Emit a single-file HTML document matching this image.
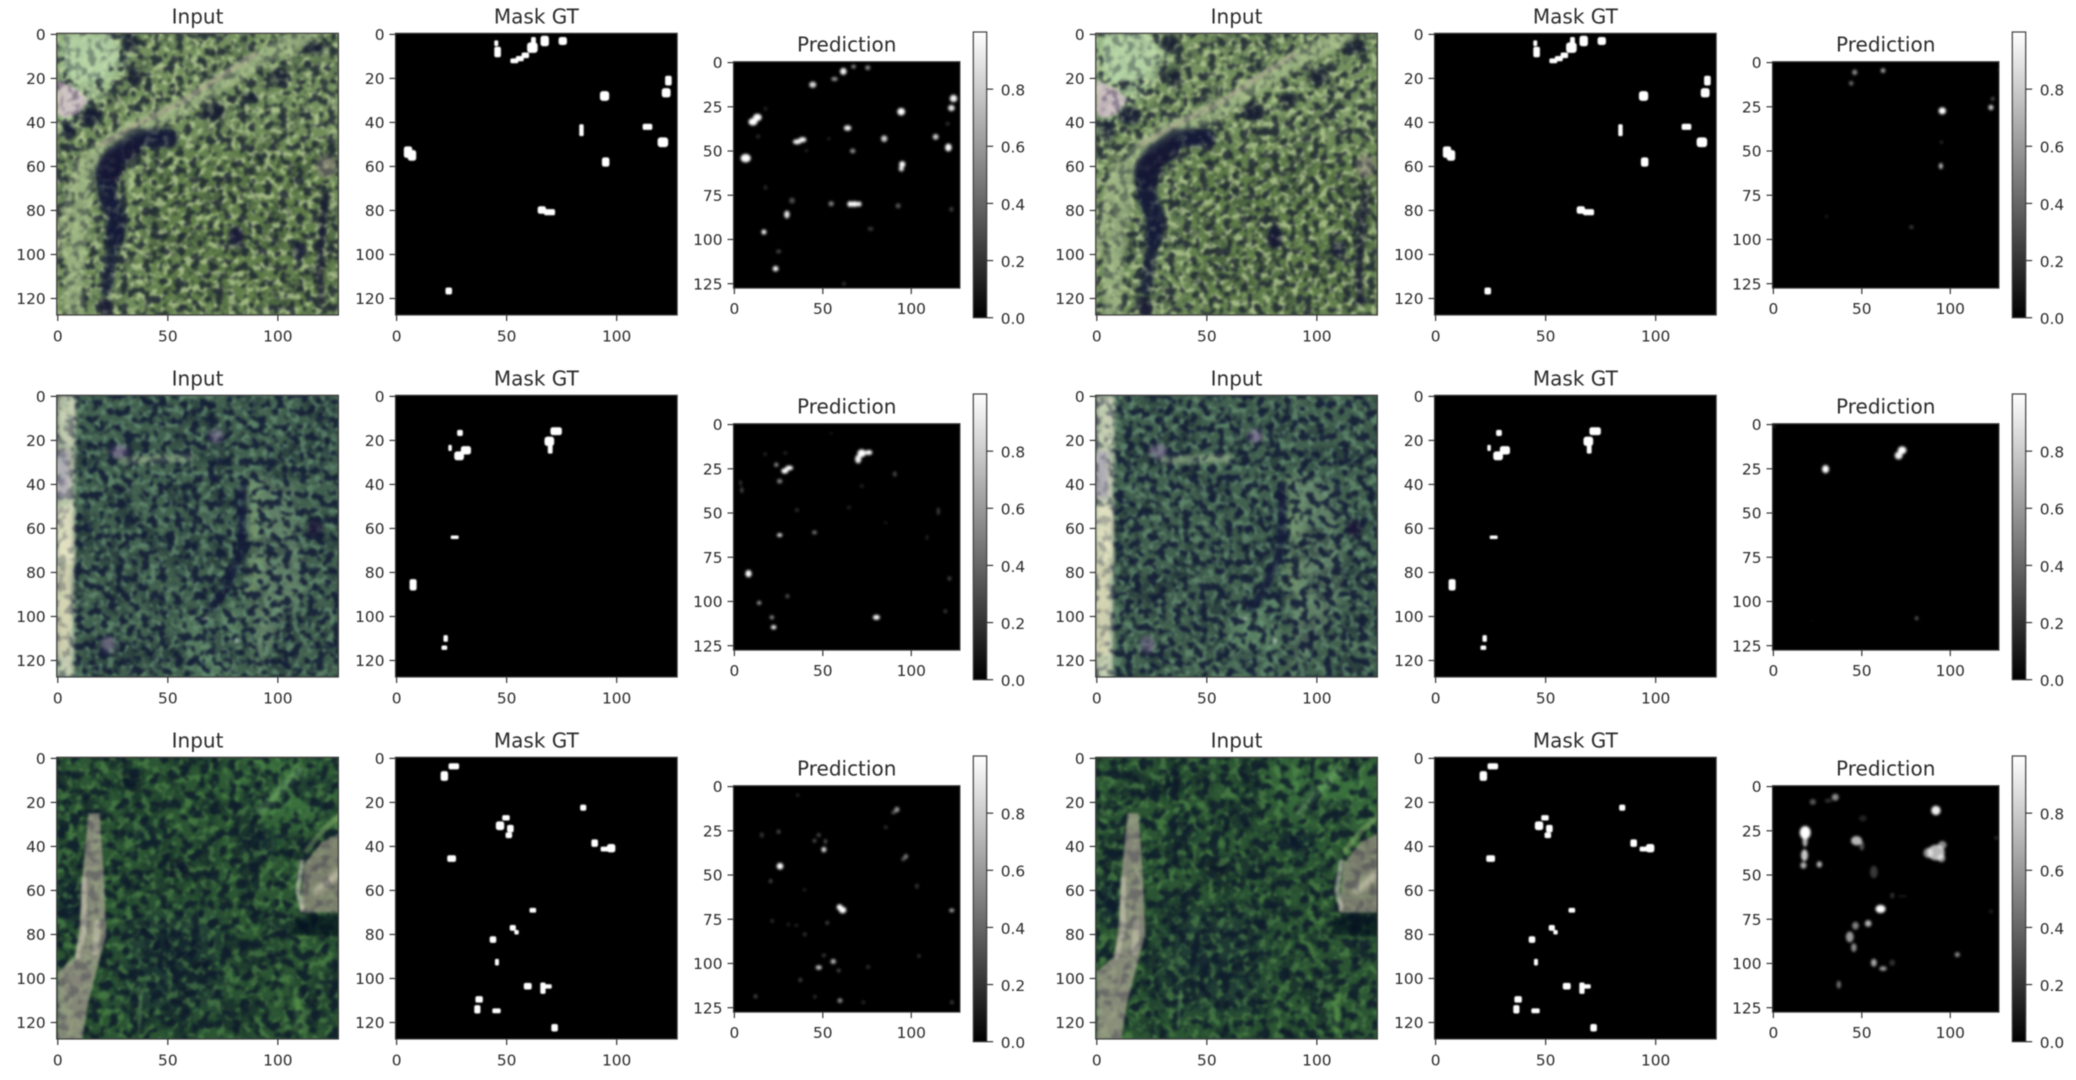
<!DOCTYPE html>
<html lang="en">
<head>
<meta charset="utf-8">
<title>Input, Mask GT and Prediction comparison</title>
<style>
html,body{margin:0;padding:0;background:#fff;width:2076px;height:1080px;overflow:hidden}
svg{display:block;filter:blur(0.5px)}
text{font-family:"DejaVu Sans","Liberation Sans",sans-serif;fill:#2b2b2b}
</style>
</head>
<body>
<svg id="figure" xmlns="http://www.w3.org/2000/svg" width="2076" height="1080" viewBox="0 0 2076 1080">
<defs>
<linearGradient id="cbar-grad" x1="0" y1="1" x2="0" y2="0"><stop offset="0" stop-color="#000"/><stop offset="1" stop-color="#fff"/></linearGradient>
<filter id="b1" x="-50%" y="-50%" width="200%" height="200%"><feGaussianBlur stdDeviation="1.3"/></filter>
<filter id="b2" x="-50%" y="-50%" width="200%" height="200%"><feGaussianBlur stdDeviation="2.4"/></filter>
<filter id="b5" x="-50%" y="-50%" width="200%" height="200%"><feGaussianBlur stdDeviation="5"/></filter>
<filter id="b12" x="-50%" y="-50%" width="200%" height="200%"><feGaussianBlur stdDeviation="12"/></filter>
<filter id="b1u" filterUnits="userSpaceOnUse" x="0" y="0" width="2076" height="1080"><feGaussianBlur stdDeviation="1.3"/></filter>
<filter id="b2u" filterUnits="userSpaceOnUse" x="0" y="0" width="2076" height="1080"><feGaussianBlur stdDeviation="2.4"/></filter>
<filter id="b5u" filterUnits="userSpaceOnUse" x="0" y="0" width="2076" height="1080"><feGaussianBlur stdDeviation="5"/></filter>
<filter id="pblur" x="-5%" y="-5%" width="110%" height="110%"><feGaussianBlur stdDeviation="1.3"/></filter>
<filter id="mblur" x="-5%" y="-5%" width="110%" height="110%"><feGaussianBlur stdDeviation="0.4"/></filter>
</defs>
</svg>
<script>
// ---------- chart data (all coordinates are image pixels, 0-128) ----------
const inputXTicks = [0, 50, 100];
const inputYTicks = [0, 20, 40, 60, 80, 100, 120];
const predXTicks = [0, 50, 100];
const predYTicks = [0, 25, 50, 75, 100, 125];
const colorbarTicks = [0.0, 0.2, 0.4, 0.6, 0.8];
const colorbarMax = 1.0;
const imageSize = 128;

// Ground-truth mask blobs: [x, y, rx, ry]
const maskRow1 = [
 [45.3,4,0.9,1.3],[45.9,8,1.5,2.4],[53.5,12,1.8,1.1],[56,11,1.8,1.2],[58.5,9.5,1.7,1.3],[61.7,6,2.4,2.4],[62.2,2.8,1.1,1.6],
 [67.3,3,1.9,2.4],[75.5,3,1.9,1.8],[123.5,21,1.5,2.2],[122.5,26.5,2,2.1],[94.5,28,2.1,2.2],[84,43.5,1,2.7],[114,42,2.2,1.4],
 [121,49,2.4,2.2],[95,58,1.7,2.1],[5.2,53.5,1.9,2.6],[7,55,1.9,2.4],[66,79.8,1.9,1.7],[69.5,80.8,2.5,1.4],[23.7,116.6,1.5,1.6]
];
const maskRow2 = [
 [28.8,16.6,1.3,1.4],[24.3,23.4,0.8,1.4],[31.5,24.5,2.3,1.9],[28.4,27,2.2,2],[72.5,15.8,2.6,1.8],[69.4,20.4,2.2,2.1],[69.8,24,1.1,2],
 [26.4,64,1.8,0.8],[7.5,85.6,1.6,2.6],[22.3,110,1,1.5],[21.7,114.2,1.3,1]
];
const maskRow3 = [
 [26,3.6,2.4,1.4],[21.7,8,1.7,2.2],[84.8,22.4,1.4,1.4],[49.7,27,1.7,1.2],[47,30.6,1.9,2],[51.7,31.9,1.5,1.7],[51,34.9,1.5,1.3],
 [90,38.5,1.5,1.7],[94.5,41.2,1.8,1.1],[97.5,40.8,1.9,1.9],[25,45.5,2,1.5],[61.9,69,1.5,1.1],[52.8,77,1.4,1.3],[54.5,79,1,1],
 [43.8,82.3,1.5,1.5],[45.6,92.6,0.9,1.5],[59.6,103.5,1.8,1.5],[66.5,104.4,1.2,2.6],[68.8,103.6,1.7,1],[37.5,109.5,1.7,1.5],
 [36.7,114,1.4,1.9],[45.4,114.7,1.9,1.1],[71.8,122.4,1.5,1.7]
];

// Prediction blobs: [x, y, rx, ry, value]
const predRow1Left = [
 [10.5,33.5,2.3,1.9,1],[13,31,2.2,1.9,1],[6.4,54,2.6,2.2,1],[35.5,44.8,2.2,1.3,.95],[38.5,43.6,2,1.4,.95],[44.3,12.5,1.8,1.6,.85],
 [56.6,9.3,1.7,1.1,.55],[61.6,5,1.7,1.8,.95],[67.4,2.3,1.2,1,.55],[75.4,2.9,1.3,1.2,.55],[123.9,20.3,1.9,1.9,.95],[122.7,25.7,1.7,1.6,.9],
 [94.3,27.8,2,1.9,1],[64,37,1.9,1.4,.95],[84.7,43,1.6,1.7,.8],[113.8,42,1.5,1.5,.8],[121,48,1.7,2,1],[94.9,57.5,1.6,1.6,1],[94.4,60,1.3,1.4,.9],
 [66.9,50,1.4,1.2,.55],[65.5,80,1.5,1.5,1],[68,80,1.6,1.5,1],[70.5,80,1.3,1.3,.95],[54.7,79.8,1.4,1.3,.5],[92.6,81,1.3,1.3,.35],
 [29.7,85.9,1.4,2,.9],[32.6,78,1.5,1.5,.3],[16.7,95.8,1.3,1.3,.95],[23.3,116.5,1.5,1.4,.95],[25,106.8,1.3,1,.28],[77,94,1.6,1,.22],
 [122.7,83,1.1,1.2,.25],[17.6,70.7,1,1.2,.16],[13.4,41.8,1,1.1,.16],[17.6,26,1,1.1,.14],[120.6,34.6,1.1,1,.18],[62,125,1,1,.2],[40.7,49.8,1,1,.12],[53.4,43,1,1,.12]
];
const predRow2Left = [
 [72,16.2,2.2,2,1],[76,15.8,1.8,1.3,1],[70,19.5,1.6,2.2,.95],[31,24.5,2,1.2,1],[28.5,26.2,1.8,1.4,1],[23.7,22.7,1.1,1.1,.55],[25.6,32,1.4,1.2,.5],
 [3.5,33,.7,1.5,.22],[4.2,37,.8,1.5,.3],[25.6,62.5,1.4,1,.85],[45.3,61,1.3,1,.45],[8,84.3,1.6,1.9,1],[14,100.8,1.1,1,.6],[30,97,1,1,.35],
 [21.2,109,1.1,1,.55],[22.2,114.6,1.4,1.1,.95],[80.3,109,1.8,1.3,1],[90.7,28,1,1.4,.28],[72,34.7,1,1,.14],[64.8,46.8,1,1,.14],[35.4,48.3,1,1,.2],
 [115.3,49,.8,2,.25],[121.6,87,1,1,.28],[119.3,105.5,1,1,.22],[108.9,63.8,.7,1.2,.16],[17.4,16.7,1,1,.14],[28.8,16,1,1,.14],[54.7,5,.8,.8,.12],[85.6,55.5,.9,.9,.1]
];
const predRow3Left = [
 [25.8,45,1.7,1.7,1],[59.5,68.2,1.5,1.5,1],[61.2,69.8,1.9,1.7,1],[50.6,35.6,1.3,1.4,.85],[51.5,31,.8,1.2,.35],[47.7,27.4,1,1,.3],[45.3,30.6,1,1,.3],
 [91.9,13,1.3,1.4,.6],[90,14.6,1.1,1,.35],[97,39.5,1.1,1.2,.5],[95.5,41,1,1,.35],[55.9,98.9,1.4,1.3,.7],[47.7,102.3,1.6,1.2,.75],[59.7,121,1.3,1.2,.55],
 [122.9,70,1.3,1,.65],[25,25.5,1,1,.3],[15.5,27.4,1,1.4,.22],[20.5,53.4,.9,1,.3],[12,118.6,1,1,.28],[37.3,109.3,1,1,.28],[52.5,77,1,1,.25],
 [59,104,1,.9,.3],[75.6,102,1,1,.2],[50.6,95.4,1,.9,.25],[45.5,118.8,.9,1,.18],[103.2,56.3,1,1.4,.2],[104.4,95.8,.9,.9,.22],[123,122,.9,1,.25],
 [85.6,23,1,.9,.2],[21.4,75.9,.9,1,.18],[39.8,83.5,1,1,.2],[30.5,78,1,.9,.14],[35,78.5,1,.9,.14],[39.6,58.4,1,1,.12],[35.8,4.8,.9,.9,.15],[72.9,122,1,1,.15]
];
const predRow1Right = [
 [46,5.5,1.3,1.4,.55],[62,4.5,1.2,1.2,.65],[44,11.7,1.1,1.2,.45],[95.5,27.3,1.9,1.8,1],[123,25.4,1.3,1.4,.8],[124,20.5,1,1,.3],
 [94.7,58.5,1,1.6,.75],[95,45,.6,.8,.25],[78,93,1.1,.9,.25],[30,87,.9,.9,.1],[127,4,.9,.9,.06]
];
const predRow2Right = [
 [72.8,14.5,2.2,2,1],[70.8,17.5,2,2,.95],[29.5,25.2,1.8,2.1,1],[81,109.5,.9,.9,.4],[22,110.8,.7,.7,.08],[.5,1,.8,.8,.15]
];
const predRow3Right = [
 [18,26,2.8,3.4,1],[17.9,31,1.3,2.8,.7],[17.6,38.8,1.8,3,.78],[17,44.5,1.6,1.7,.68],[26,44,1.4,1.6,.7],[35,6,1.8,1.8,.55],[31,8,1.8,1,.2],[22.3,8.7,1.6,1.5,.35],
 [47,30.6,2.8,2.4,.72],[50,33.5,1.2,2.4,.32],[50.6,18,2,1.6,.14],[91.9,13.5,2.4,2.4,.95],[92,37.3,4.4,4,.72],[87.5,37.5,2.4,2.6,.55],[95.5,33,2.2,2,.55],[95,40.5,2,2,.6],
 [56.8,48.3,2,3.2,.22],[60.6,69.2,2.6,2.1,1],[53.6,77.4,1.7,1.7,.7],[46.4,78.7,1.7,2,.5],[43.2,85,2,2.8,.6],[45.5,91,1.4,2.2,.55],[56.8,99.6,1.5,2,.65],
 [62,102.9,1.9,1.2,.6],[67.2,99.6,1.4,1.6,.2],[104,95,1.3,1.3,.55],[37,112,1.1,2,.45],[67.2,61.6,1,1.4,.22],[73,62,2.5,.4,.16],[123,70.5,1,1,.14],[126,29,.9,.9,.2]
];

// Input imagery as low-resolution regions: [kind, colour, blur, opacity, points..., strokeWidth]
const inputBase = ['#74905e', '#42604f', '#2c5534'];
const inputDarkTexture = [['#1a2032', .74], ['#121a36', .82], ['#0e1a2c', .78]];
const inputLightTexture = [['#c6d9a2', .66], ['#6f9a7c', .6], ['#58934e', .55]];
const inputBroadShade = [.22, .36, .45];
const inputRegions1 = [
 ['poly','#5e7c48','b12',.9,[40,50,128,50,128,128,40,128]],
 ['poly','#a4c494','b5',1,[0,0,28,0,33,10,25,24,15,32,5,42,0,46]],
 ['poly','#bedcae','b1',1,[3,0,24,0,28,10,20,20,8,22,3,14]],
 ['poly','#e4c4dc','b1',1,[0,21,9,25,14,30,9,36,3,38,0,36]],
 ['line','#9cb482','b2',.9,[7,128,8,100,11,80,12,66,19,53,34,43,55,34,75,21,95,9,114,0],8],
 ['line','#b4a898','b1',.8,[20,50,36,41,56,31,74,19,90,9],2.2],
 ['line','#a8bc8c','b2',.7,[0,100,3,85,6,70,10,58],4],
 ['line','#181a3a','b2',1,[50,47,36,47,26,54,21,62,23,74,27,84,26,92],8],
 ['line','#181a3a','b2',.8,[26,92,24,104,22,116],5],
 ['poly','#141636','b2',1,[22,54,36,46,38,54,30,60,26,70,20,66,18,60]],
 ['dot','#141a30','b2',.8,[33,4,4,4]],['dot','#141a30','b2',.8,[35,20,3,4]],['dot','#141a34','b2',.9,[15,37,5,4]],['dot','#141a34','b2',.8,[5,44,3,4]],
 ['dot','#141a30','b2',.8,[101,19,4,4]],['dot','#141a30','b2',.8,[117,6,5,3]],['dot','#141a30','b2',.85,[71,35,5,4]],['dot','#141a30','b2',.8,[87,29,4,2.5]],
 ['dot','#181838','b2',.9,[81,92,3,5]],['line','#1a1a38','b2',.8,[122,72,120,90,119,110,120,122],2.6],['dot','#1a1a38','b2',.9,[22,124,3,4]],
 ['dot','#8a8a78','b2',.9,[122,60,4,5]],['dot','#14183a','b2',.7,[110,98,3,4]]
];
const inputRegions2 = [
 ['poly','#7c9a7c','b5',.55,[88,35,108,40,112,90,90,128,88,100]],
 ['poly','#628a6a','b5',.75,[58,100,85,96,80,128,62,128]],
 ['poly','#c8d0b4','b2',1,[0,0,8,0,7,50,7,128,0,128]],
 ['poly','#aca4b8','b2',1,[0,25,5,25,5,46,0,46]],
 ['poly','#ece8c8','b2',1,[0,50,7,50,7,76,1,76]],
 ['poly','#dcd8b4','b2',.9,[0,76,6,76,5,118,0,118]],
 ['line','#a0b890','b2',.6,[30,29,60,28],3],
 ['line','#7ea072','b5',.85,[88,40,90,70,88,90],6],
 ['line','#141a3c','b2',.9,[84,40,84,58,83,72,76,88,70,96],3],
 ['dot','#8a78a0','b2',.7,[72,18,3,3]],['dot','#8a78a0','b2',.7,[28,25,4,3]],['dot','#8a78a0','b2',.55,[23,113,3,4]],
 ['dot','#1c1838','b2',.9,[117,60,3,4]],['dot','#f0f0f0','b1',.8,[81,111,1,1.1]],['dot','#e8f0e0','b1',.7,[67,101,2,.6]]
];
const inputRegions3 = [
 ['poly','#18203a','b12',.45,[30,70,75,70,75,115,30,115]],
 ['poly','#4a8a4a','b12',.5,[75,0,128,0,128,30,90,30]],
 ['dot','#101c28','b5',.75,[33,11,6,6]],['dot','#101626','b5',.9,[55,50,7,5]],['dot','#101c30','b5',.7,[92,38,7,6]],['dot','#101c30','b5',.7,[40,33,6,5]],
 ['dot','#101c30','b5',.7,[6,65,6,10]],['dot','#101c28','b5',.75,[66,95,6,4]],['dot','#101c30','b5',.7,[48,92,4,4]],
 ['poly','#bcb0a0','b1',1,[14,25,19,25,21,55,22,80,18,95,14,110,11,128,0,128,0,97,8,90,10,75,11,55,13,35]],
 ['line','#e4dcc8','b1',.7,[12,55,12,78,9,90],2.4],
 ['line','#e8e0c8','b1',.65,[18,75,17,88],3],
 ['poly','#a89c8e','b1',1,[128,34,120,38,112,48,110,70,128,70]],
 ['line','#ece8d4','b1',.85,[111,47,109,60,111,68],2.2],
 ['line','#d8d4bc','b2',.7,[118,60,128,52],3],
 ['line','#90b870','b1',.75,[113,42,120,33,128,26],2.4],
 ['poly','#06081a','b1',1,[108,72,128,71,128,81,106,80]],
 ['line','#76a870','b1',.6,[38,106,37,122],1.5],
 ['line','#60a050','b2',.7,[109,108,109,124],2.5],
 ['line','#70a868','b2',.6,[92,24,110,5],3]
];

// ---------- layout ----------
const rowTops = [33.3, 395.3, 757.3];
const colOffsets = [0, 1039];
const inputLeft = 56.7, maskLeft = 395.5, squareSize = 281.7;
const predLeft = 733.5, predSize = 226.4, predInset = 28.4;
const cbarLeft = 973.3, cbarWidth = 13.4, cbarTop = -1.3, cbarHeight = 285.7;

const svg = document.getElementById('figure');
const NS = 'http://www.w3.org/2000/svg';

function make(parent, tag, attrs) {
  const el = document.createElementNS(NS, tag);
  for (const k in attrs) el.setAttribute(k, attrs[k]);
  parent.appendChild(el);
  return el;
}
function axisScale(start, size) {
  return v => start + (v + 0.5) * size / imageSize;
}
function addTitle(parent, label, cx, y) {
  const t = make(parent, 'text', {x: cx, y: y, 'text-anchor': 'middle', 'font-size': 20});
  
  
  t.textContent = label;
}
function addAxes(parent, left, top, size, xTicks, yTicks, labelDrop) {
  const sx = axisScale(left, size), sy = axisScale(top, size);
  const frame = make(parent, 'rect', {x: left, y: top, width: size, height: size, fill: 'none', stroke: '#3e3e3e', 'stroke-width': 1.2});
  
  
  xTicks.forEach(v => {
    const m = make(parent, 'line', {x1: sx(v), x2: sx(v), y1: top + size, y2: top + size + 6, stroke: '#333', 'stroke-width': 1.2});
    
    
    const t = make(parent, 'text', {x: sx(v), y: top + size + labelDrop, 'text-anchor': 'middle', 'font-size': 15.4});
    
    
    t.textContent = v;
  });
  yTicks.forEach(v => {
    const m = make(parent, 'line', {x1: left - 6, x2: left, y1: sy(v), y2: sy(v), stroke: '#333', 'stroke-width': 1.2});
    
    
    const t = make(parent, 'text', {x: left - 11, y: sy(v) + 5.6, 'text-anchor': 'end', 'font-size': 15.4});
    
    
    t.textContent = v;
  });
}
let clipCount = 0;
function clipGroup(parent, left, top, size) {
  const id = 'clip-' + (clipCount++);
  const cp = make(svg.querySelector('defs'), 'clipPath', {id: id});
  make(cp, 'rect', {x: left, y: top, width: size, height: size});
  return make(parent, 'g', {'clip-path': 'url(#' + id + ')'});
}
function drawRegions(g, regions, sx, sy, k) {
  regions.forEach(r => {
    const kind = r[0], color = r[1], blur = r[2], op = r[3], p = r[4];
    let el;
    if (kind === 'dot') {
      el = make(g, 'ellipse', {cx: sx(p[0]), cy: sy(p[1]), rx: p[2] * k, ry: p[3] * k, fill: color});
    } else {
      const pts = [];
      for (let i = 0; i < p.length; i += 2) pts.push(sx(p[i]) + ',' + sy(p[i + 1]));
      if (kind === 'poly') el = make(g, 'polygon', {points: pts.join(' '), fill: color});
      else el = make(g, 'polyline', {points: pts.join(' '), fill: 'none', stroke: color, 'stroke-width': r[5] * k, 'stroke-linejoin': 'round', 'stroke-linecap': 'round'});
    }
    // Stroked lines have a thin bounding box, so they use user-space filter regions.
    el.setAttribute('filter', 'url(#' + blur + (kind === 'line' ? 'u' : '') + ')');
    el.setAttribute('opacity', op);
    
    
  });
}
function textureRect(g, left, top, idx, kind, color, op) {
  const r = make(g, 'rect', {x: left, y: top, width: squareSize, height: squareSize, fill: color, filter: 'url(#tex-' + kind + '-' + idx + ')', opacity: op});
  
  
}
function drawInput(parent, left, top, idx) {
  const g = clipGroup(parent, left, top, squareSize);
  
  
  const sx = axisScale(left, squareSize), sy = axisScale(top, squareSize), k = squareSize / imageSize;
  const regions = [inputRegions1, inputRegions2, inputRegions3][idx];
  make(g, 'rect', {x: left, y: top, width: squareSize, height: squareSize, fill: inputBase[idx]});
  drawRegions(g, regions.filter(r => r[2] !== 'b1'), sx, sy, k);
  textureRect(g, left, top, idx, 'broad', '#0c1428', inputBroadShade[idx]);
  textureRect(g, left, top, idx, 'light', inputLightTexture[idx][0], inputLightTexture[idx][1]);
  textureRect(g, left, top, idx, 'dark', inputDarkTexture[idx][0], inputDarkTexture[idx][1]);
  // Stronger features redrawn above the texture, then lightly re-mottled
  drawRegions(g, regions.filter(r => r[2] !== 'b12' && r[2] !== 'b5').map(r => [r[0], r[1], r[2], r[3] * 0.65, r[4], r[5]]), sx, sy, k);
  textureRect(g, left, top, idx, 'dark', inputDarkTexture[idx][0], 0.18);
}
function drawMask(parent, left, top, blobs) {
  const g = clipGroup(parent, left, top, squareSize);
  
  
  const sx = axisScale(left, squareSize), sy = axisScale(top, squareSize), k = squareSize / imageSize;
  make(g, 'rect', {x: left, y: top, width: squareSize, height: squareSize, fill: '#000'});
  const inner = make(g, 'g', {filter: 'url(#mblur)'});
  blobs.forEach(b => {
    const w = b[2] * k, h = b[3] * k;
    const e = make(inner, 'rect', {x: sx(b[0]) - w, y: sy(b[1]) - h, width: 2 * w, height: 2 * h, rx: Math.min(w, h) * 0.6, ry: Math.min(w, h) * 0.6, fill: '#fff'});
    
    
  });
}
function drawPrediction(parent, left, top, blobs) {
  const g = clipGroup(parent, left, top, predSize);
  
  
  const sx = axisScale(left, predSize), sy = axisScale(top, predSize), k = predSize / imageSize;
  make(g, 'rect', {x: left, y: top, width: predSize, height: predSize, fill: '#000'});
  const inner = make(g, 'g', {filter: 'url(#pblur)', style: 'isolation:isolate'});
  blobs.forEach(b => {
    const grey = Math.round(255 * b[4]);
    const e = make(inner, 'ellipse', {cx: sx(b[0]), cy: sy(b[1]), rx: b[2] * k * 1.1, ry: b[3] * k * 1.1, fill: 'rgb(' + grey + ',' + grey + ',' + grey + ')', style: 'mix-blend-mode:screen'});
    
    
  });
}
function drawColorbar(parent, dx, top) {
  const left = cbarLeft + dx, y0 = top + cbarTop, h = cbarHeight;
  const sv = v => y0 + h - (v / colorbarMax) * h;
  const bar = make(parent, 'rect', {x: left, y: y0, width: cbarWidth, height: h, fill: 'url(#cbar-grad)', stroke: '#3e3e3e', 'stroke-width': 1.2});
  
  
  colorbarTicks.forEach(v => {
    const m = make(parent, 'line', {x1: left + cbarWidth, x2: left + cbarWidth + 6.5, y1: sv(v), y2: sv(v), stroke: '#333', 'stroke-width': 1.2});
    
    
    const t = make(parent, 'text', {x: left + cbarWidth + 14, y: sv(v) + 6.4, 'font-size': 15.4});
    
    
    t.textContent = v.toFixed(1);
  });
}

// Per-image texture filters with distinct noise seeds
const defs = svg.querySelector('defs');
const textureSeeds = [[4, 11, 7], [23, 37, 19], [52, 61, 44]];
const textureScales = [[.125, .14, .035], [.12, .14, .03], [.1, .12, .03]];
textureSeeds.forEach((seeds, i) => {
  ['dark', 'light', 'broad'].forEach((kind, j) => {
    const f = make(defs, 'filter', {id: 'tex-' + kind + '-' + i, x: 0, y: 0, width: '100%', height: '100%', 'color-interpolation-filters': 'sRGB'});
    make(f, 'feTurbulence', {type: 'fractalNoise', baseFrequency: textureScales[i][j], numOctaves: 2, seed: seeds[j], result: 'n'});
    make(f, 'feColorMatrix', {in: 'n', values: '0 0 0 0 0 0 0 0 0 0 0 0 0 0 0 6.5 0 0 0 -3.2', result: 'a'});
    make(f, 'feGaussianBlur', {in: 'a', stdDeviation: 1.1, result: 'ab'});
    make(f, 'feComposite', {in: 'SourceGraphic', in2: 'ab', operator: 'in'});
  });
});

const masks = [maskRow1, maskRow2, maskRow3];
const preds = [[predRow1Left, predRow2Left, predRow3Left], [predRow1Right, predRow2Right, predRow3Right]];

colOffsets.forEach((dx, c) => {
  rowTops.forEach((top, r) => {
    const panel = make(svg, 'g', {});
    
    

    drawInput(panel, inputLeft + dx, top, r);
    addAxes(panel, inputLeft + dx, top, squareSize, inputXTicks, inputYTicks, 26.7);
    addTitle(panel, 'Input', inputLeft + dx + squareSize / 2, top - 10);

    drawMask(panel, maskLeft + dx, top, masks[r]);
    addAxes(panel, maskLeft + dx, top, squareSize, inputXTicks, inputYTicks, 26.7);
    addTitle(panel, 'Mask GT', maskLeft + dx + squareSize / 2, top - 10);

    const pTop = top + predInset;
    drawPrediction(panel, predLeft + dx, pTop, preds[c][r]);
    addAxes(panel, predLeft + dx, pTop, predSize, predXTicks, predYTicks, 26);
    addTitle(panel, 'Prediction', predLeft + dx + predSize / 2, pTop - 10);

    drawColorbar(panel, dx, top);
  });
});
</script>
</body>
</html>
